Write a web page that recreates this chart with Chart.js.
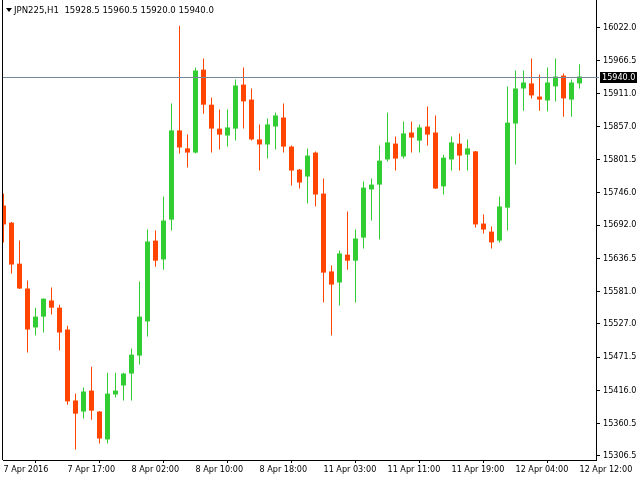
<!DOCTYPE html>
<html><head><meta charset="utf-8">
<script src="https://cdn.jsdelivr.net/npm/chart.js@4.4.1/dist/chart.umd.min.js"></script>
<style>html,body{margin:0;padding:0;background:#fff;overflow:hidden}</style>
</head><body>
<canvas id="c" width="640" height="480"></canvas>
<script>
const symbol = 'JPN225,H1';
const opens  = [15724.5,15696.0,15627.5,15586.0,15521.0,15539.0,15566.0,15554.0,15517.5,15399.0,
                15380.5,15415.5,15380.5,15334.0,15409.0,15424.0,15444.0,15474.0,15531.0,15666.0,
                15634.5,15701.0,15850.0,15820.0,15813.0,15951.5,15893.0,15853.0,15841.5,15853.0,
                15926.5,15901.5,15835.0,15826.5,15856.5,15871.5,15823.0,15784.5,15773.0,15813.0,
                15744.5,15614.5,15596.0,15642.5,15632.5,15671.0,15751.5,15759.5,15801.5,15828.0,
                15806.5,15846.5,15833.0,15856.5,15846.5,15756.5,15801.5,15828.0,15809.5,15815.0,
                15694.5,15681.0,15666.0,15721.0,15861.5,15920.0,15928.5,15906.5,15900.0,15923.5,
                15941.5,15901.5,15928.5];
const highs  = [15744.5,15697.0,15666.0,15599.5,15554.0,15569.5,15587.5,15559.0,15524.0,15410.5,
                15420.5,15455.5,15381.5,15445.5,15445.5,15445.5,15486.0,15597.5,15684.5,15683.0,
                15739.5,15895.0,16025.0,15843.0,15955.0,15970.0,15905.0,15885.0,15885.0,15935.0,
                15955.0,15920.0,15860.0,15870.0,15880.0,15895.0,15825.0,15785.5,15820.0,15815.0,
                15769.5,15624.5,15649.5,15714.5,15684.5,15764.5,15769.5,15825.0,15880.0,15840.0,
                15865.0,15865.0,15860.0,15890.0,15875.0,15809.5,15840.0,15845.0,15835.0,15815.5,
                15709.5,15689.5,15739.5,15923.5,15950.0,15950.0,15970.0,15943.5,15955.0,15970.0,
                15945.0,15935.0,15960.5];
const lows   = [15663.0,15611.0,15585.0,15479.0,15507.5,15512.5,15542.5,15482.5,15392.0,15317.0,
                15369.0,15367.0,15327.0,15327.0,15404.0,15399.0,15399.0,15459.0,15506.0,15622.5,
                15617.5,15683.0,15811.5,15788.0,15811.5,15878.0,15813.0,15818.0,15823.0,15833.0,
                15853.0,15833.0,15783.0,15803.0,15818.0,15813.0,15758.0,15753.0,15728.0,15723.0,
                15562.5,15507.5,15557.5,15617.5,15562.5,15653.0,15699.5,15668.0,15798.0,15783.0,
                15803.0,15813.0,15813.0,15825.0,15752.0,15743.0,15783.0,15783.0,15783.0,15688.0,
                15678.0,15653.0,15663.0,15683.0,15793.0,15883.0,15903.5,15883.0,15881.5,15898.5,
                15873.0,15873.0,15920.0];
const closes = [15693.0,15626.0,15586.0,15517.5,15539.0,15569.0,15554.0,15512.5,15397.5,15377.0,
                15414.0,15382.0,15335.5,15410.5,15415.5,15444.0,15475.5,15539.0,15664.5,15632.5,
                15699.5,15850.0,15821.5,15813.0,15950.0,15893.0,15853.0,15843.0,15855.0,15925.0,
                15898.5,15835.0,15826.5,15860.0,15875.0,15823.0,15783.0,15763.0,15808.0,15743.0,
                15612.5,15592.5,15644.5,15632.5,15669.5,15754.5,15759.5,15799.5,15830.0,15803.0,
                15845.0,15838.0,15855.0,15843.0,15753.0,15804.5,15830.0,15808.0,15820.0,15693.0,
                15684.5,15663.0,15723.0,15863.0,15920.0,15930.0,15908.5,15901.5,15930.0,15940.0,
                15903.5,15930.0,15940.0];
const tickCandles = [0, 8, 16, 24, 32, 40, 48, 56, 64, 72];
const tickLabels = ['7 Apr 2016','7 Apr 17:00','8 Apr 02:00','8 Apr 10:00','8 Apr 18:00',
                    '11 Apr 03:00','11 Apr 11:00','11 Apr 19:00','12 Apr 04:00','12 Apr 12:00'];
const priceTicks = [16022.0,15966.5,15911.0,15857.0,15801.5,15746.0,15692.0,15636.5,
                    15581.0,15527.0,15471.5,15416.0,15360.5,15306.5];
const currentPrice = 15940.0;

const GREEN = '#32CD32', RED = '#FF4500', LINE = '#778899';
const FONT_FAMILY = 'Tahoma, "DejaVu Sans Condensed", "Liberation Sans", sans-serif';
const FONT_SIZE = 9;
const FONT = FONT_SIZE + 'px ' + FONT_FAMILY;

const idx = opens.map((_, i) => i);
const candleColors = idx.map(i => closes[i] >= opens[i] ? GREEN : RED);

const decor = {
  id: 'decor',
  afterDatasetsDraw(chart) {
    const {ctx, chartArea: a, scales: {y}} = chart;
    ctx.save();
    const py = Math.round(y.getPixelForValue(currentPrice)) + 0.5;
    ctx.strokeStyle = LINE; ctx.lineWidth = 1;
    ctx.beginPath(); ctx.moveTo(a.left, py); ctx.lineTo(a.right + 3, py); ctx.stroke();
    ctx.strokeStyle = '#000';
    ctx.beginPath(); ctx.moveTo(a.left - 0.5, a.top); ctx.lineTo(a.left - 0.5, a.bottom); ctx.stroke();
    ctx.fillStyle = '#000';
    ctx.fillRect(a.right + 4, py - 5.5, 37, 11);
    ctx.fillStyle = '#fff'; ctx.font = FONT; ctx.textBaseline = 'middle'; ctx.textAlign = 'left';
    ctx.fillText(currentPrice.toFixed(1), a.right + 6, py + 0.5);
    const n = opens.length - 1;
    ctx.fillStyle = '#000';
    ctx.beginPath(); ctx.moveTo(6, 8); ctx.lineTo(12, 8); ctx.lineTo(9, 12); ctx.closePath(); ctx.fill();
    ctx.font = '9.5px ' + FONT_FAMILY;
    ctx.fillText(symbol + '  ' + [opens[n], highs[n], lows[n], closes[n]].map(v => v.toFixed(1)).join(' '), 14, 10.5);
    ctx.restore();
  }
};

new Chart(document.getElementById('c'), {
  type: 'bar',
  data: {
    datasets: [
      { label: 'wick', data: idx.map(i => ({x: i, y: [lows[i], highs[i]]})),
        backgroundColor: candleColors, barThickness: 1, grouped: false, borderWidth: 0, inflateAmount: 0, order: 2 },
      { label: 'body', data: idx.map(i => ({x: i, y: [opens[i], closes[i]]})),
        backgroundColor: candleColors, barThickness: 5, grouped: false, borderWidth: 0, inflateAmount: 0, minBarLength: 1, order: 1 }
    ]
  },
  options: {
    responsive: false, animation: false, devicePixelRatio: 1,
    layout: { padding: { left: 3, top: 0, right: 0, bottom: 0 } },
    plugins: { legend: { display: false }, tooltip: { enabled: false } },
    scales: {
      x: {
        type: 'linear', offset: false, bounds: 'data', min: -0.0625, max: 74.0625,
        afterBuildTicks: s => { s.ticks = tickCandles.map(v => ({value: v})); },
        afterFit: s => { s.height = 20; s.paddingLeft = 0; s.paddingRight = 0; },
        grid: { drawOnChartArea: false, drawTicks: true, tickLength: 3, color: '#000' },
        border: { display: true, color: '#000', width: 1 },
        ticks: { autoSkip: false, maxRotation: 0, align: 'start', padding: 1, color: '#000',
                 font: { family: FONT_FAMILY, size: FONT_SIZE },
                 callback: (v) => tickLabels[tickCandles.indexOf(v)] }
      },
      y: {
        type: 'linear', position: 'right', bounds: 'data', min: 15299.6, max: 16067.8,
        afterBuildTicks: s => { s.ticks = priceTicks.map(v => ({value: v})); },
        afterFit: s => { s.width = 44; s.paddingTop = 0; s.paddingBottom = 0; },
        grid: { drawOnChartArea: false, drawTicks: true, tickLength: 4, color: '#000' },
        border: { display: true, color: '#000', width: 1 },
        ticks: { padding: 3, color: '#000', crossAlign: 'near',
                 font: { family: FONT_FAMILY, size: FONT_SIZE },
                 callback: v => v.toFixed(1) }
      }
    }
  },
  plugins: [decor]
});
</script>
</body></html>
